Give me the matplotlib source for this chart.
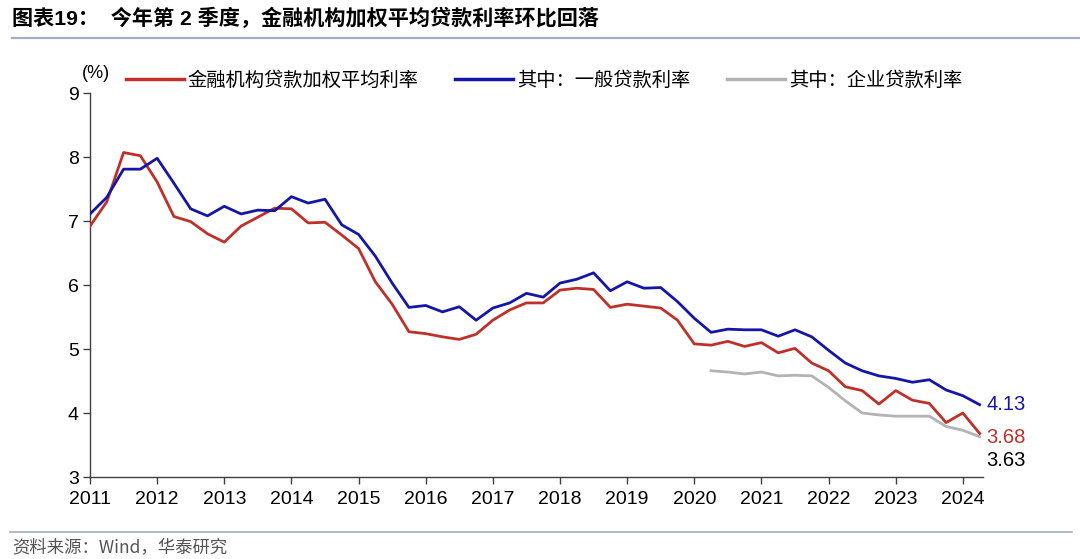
import matplotlib
matplotlib.use("Agg")
import matplotlib.pyplot as plt
import numpy as np
import pandas as pd
from matplotlib.lines import Line2D

plt.rcParams['font.family'] = ['Liberation Sans', 'Noto Sans CJK SC', 'DejaVu Sans']

quarters = pd.period_range('2011Q1', '2024Q2', freq='Q')
year_ticks = list(range(2011, 2025))
tick_labels = [str(y) for y in year_ticks]

weighted_rate = [6.92, 7.30, 8.07, 8.02, 7.61, 7.07, 6.99, 6.80, 6.67, 6.92, 7.06, 7.20,
                 7.19, 6.97, 6.98, 6.78, 6.57, 6.05, 5.70, 5.27, 5.24, 5.19, 5.15, 5.23,
                 5.45, 5.61, 5.72, 5.72, 5.92, 5.95, 5.93, 5.65, 5.70, 5.67, 5.64, 5.45,
                 5.08, 5.06, 5.12, 5.04, 5.10, 4.94, 5.01, 4.78, 4.66, 4.41, 4.35, 4.14,
                 4.35, 4.20, 4.15, 3.85, 4.00, 3.68]
general_rate = [7.11, 7.37, 7.81, 7.81, 7.98, 7.59, 7.19, 7.08, 7.23, 7.11, 7.17, 7.16,
                7.38, 7.28, 7.34, 6.94, 6.79, 6.45, 6.03, 5.65, 5.68, 5.58, 5.66, 5.45,
                5.64, 5.72, 5.87, 5.81, 6.03, 6.09, 6.19, 5.91, 6.05, 5.95, 5.96, 5.74,
                5.48, 5.26, 5.31, 5.30, 5.30, 5.20, 5.30, 5.19, 4.98, 4.78, 4.66, 4.58,
                4.54, 4.48, 4.52, 4.36, 4.27, 4.13]
corporate_rate = [np.nan] * 37 + [4.66, 4.64, 4.61, 4.64, 4.58, 4.59, 4.58, 4.40, 4.19,
                                  4.00, 3.97, 3.95, 3.95, 3.95, 3.79, 3.73, 3.63]

series_names = ['金融机构贷款加权平均利率', '其中：一般贷款利率', '其中：企业贷款利率']
colors = ['#C0302B', '#1515A8', '#B3B3B3']

x = np.array([q.year + (q.quarter - 1) / 4 for q in quarters])

fig = plt.figure(figsize=(10.8, 5.59), dpi=100)
ax = fig.add_axes([90 / 1080, 1 - 477 / 559, (983 - 90) / 1080, (477 - 93) / 559])

ax.plot(x, weighted_rate, color=colors[0], lw=2.0, zorder=3)
ax.plot(x, general_rate, color=colors[1], lw=2.0, zorder=3)
ax.plot(x, corporate_rate, color=colors[2], lw=2.0, zorder=2)

ax.set_xlim(2011, 2024.3)
ax.set_ylim(3, 9)
ax.set_xticks(year_ticks)
ax.set_xticklabels(tick_labels)
ax.set_yticks(range(3, 10))
for s in ['top', 'right']:
    ax.spines[s].set_visible(False)
for s in ['left', 'bottom']:
    ax.spines[s].set_color('#404040')
    ax.spines[s].set_linewidth(1.0)
ax.tick_params(axis='both', direction='out', length=5, width=1.0, color='#404040',
               labelsize=14, labelcolor='black')
ax.tick_params(axis='x', pad=5)
ax.tick_params(axis='y', pad=3)

# end labels
ax.annotate(f'{general_rate[-1]:.2f}', xy=(x[-1], general_rate[-1]), xytext=(5, 0),
            textcoords='offset points', color=colors[1], fontsize=14.5, va='center', ha='left')
ax.annotate(f'{weighted_rate[-1]:.2f}', xy=(x[-1], 3.68), xytext=(5, -3),
            textcoords='offset points', color=colors[0], fontsize=14.5, va='center', ha='left')
ax.annotate(f'{corporate_rate[-1]:.2f}', xy=(x[-1], 3.63), xytext=(5, -17),
            textcoords='offset points', color='black', fontsize=14.5, va='center', ha='left')

fig.text(96 / 1080, 1 - 73 / 559, '(%)', fontsize=13, ha='center', va='center')

handles = [Line2D([], [], color=c, lw=2.5) for c in colors]
fig.legend(handles, series_names, loc='center left', bbox_to_anchor=(126 / 1080, 1 - 80 / 559),
           ncol=3, frameon=False, handlelength=3.0, handletextpad=0.2,
           columnspacing=1.9, borderpad=0, borderaxespad=0,
           prop={'family': ['Noto Sans CJK SC'], 'size': 13.9})

fig.text(12 / 1080, 1 - 18 / 559, '图表19：  今年第 2 季度，金融机构加权平均贷款利率环比回落',
         fontsize=15.2, fontweight='bold', ha='left', va='center',
         family=['Liberation Sans', 'Noto Sans CJK SC'])
fig.add_artist(Line2D([12 / 1080, 1.0], [1 - 38 / 559, 1 - 38 / 559], color='#A5B0BE', lw=1.6))
fig.add_artist(Line2D([10 / 1080, 1072 / 1080], [1 - 532 / 559, 1 - 532 / 559], color='#A5B0BE', lw=1.2))
fig.text(12 / 1080, 1 - 548 / 559, '资料来源：Wind，华泰研究', fontsize=12.5, color='#555555',
         ha='left', va='center', family=['Noto Sans CJK SC'])

fig.savefig('out.png', dpi=100)
